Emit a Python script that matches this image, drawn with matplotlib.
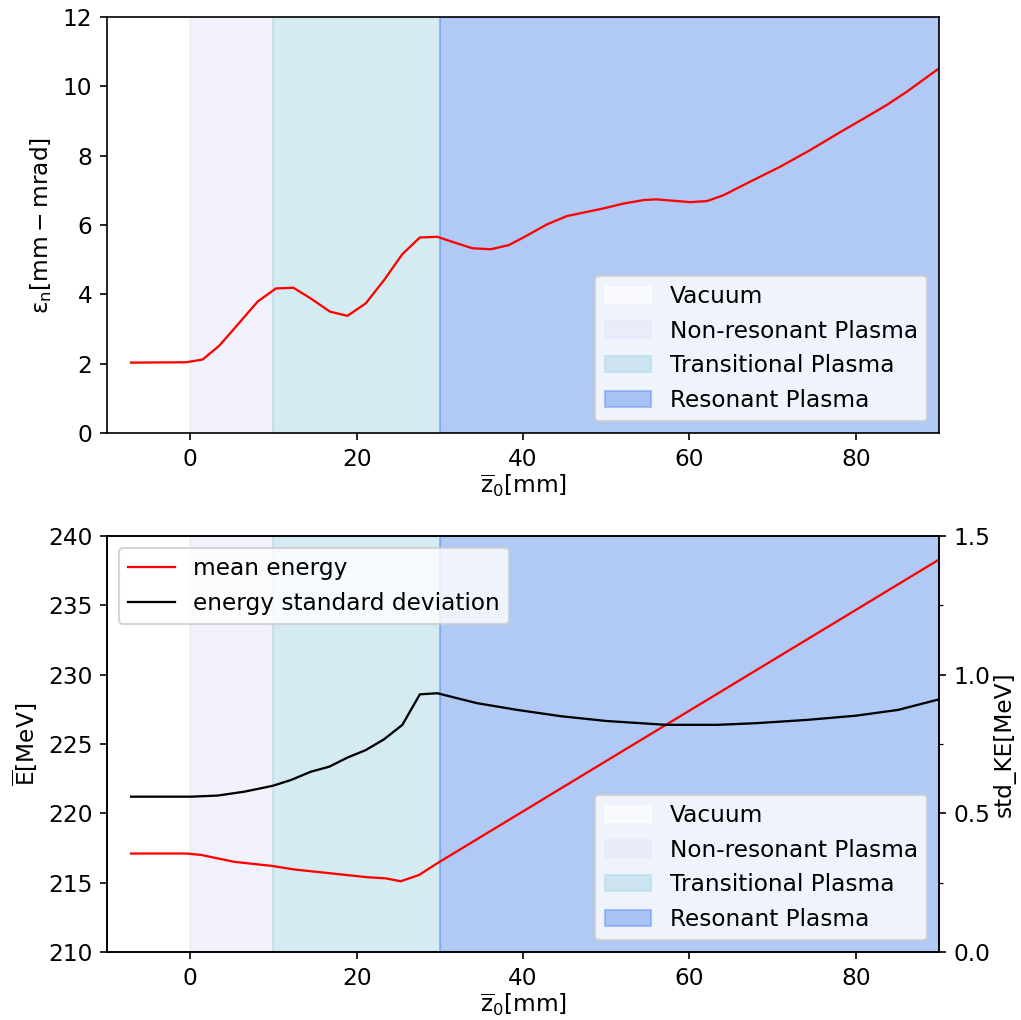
import numpy as np
import matplotlib
matplotlib.use("Agg")
import matplotlib.pyplot as plt

plt.rcParams['mathtext.default'] = 'regular'
plt.rcParams['font.size'] = 11.2

# emittance vs z
z_eps = [-7.1, -0.5, 1.5, 3.5, 5.9, 8.1, 10.3, 12.4, 14.5, 16.8, 18.9, 21.1, 23.3, 25.5,
         27.6, 29.7, 31.7, 33.9, 36.1, 38.3, 40.5, 42.9, 45.3, 47.7, 49.7, 52.1, 54.5,
         56.0, 58.1, 60.1, 62.1, 64.1, 67.3, 70.9, 74.5, 78.2, 81.3, 83.7, 86.1, 90.0]
eps_n = [2.03, 2.04, 2.12, 2.52, 3.18, 3.79, 4.17, 4.19, 3.88, 3.50, 3.38, 3.74, 4.41, 5.16,
         5.64, 5.66, 5.50, 5.33, 5.30, 5.42, 5.70, 6.02, 6.26, 6.38, 6.48, 6.62, 6.72,
         6.74, 6.70, 6.66, 6.69, 6.86, 7.25, 7.68, 8.16, 8.69, 9.12, 9.46, 9.84, 10.52]

# mean energy vs z
z_E = [-7.1, -0.5, 1.3, 5.3, 9.9, 12.5, 16.9, 21.3, 23.5, 25.3, 27.5, 29.7, 90.0]
E_mean = [217.1, 217.1, 217.0, 216.5, 216.2, 215.95, 215.67, 215.39, 215.31, 215.1,
          215.55, 216.4, 238.3]

# energy std vs z
z_std = [-7.1, 0.1, 3.3, 6.5, 9.9, 12.1, 14.5, 16.7, 18.9, 21.1, 23.3, 25.5, 27.6, 29.7,
         34.5, 39.3, 44.6, 50.0, 57.2, 63.3, 68.0, 74.2, 80.0, 85.1, 90.0]
E_std = [0.560, 0.560, 0.564, 0.578, 0.599, 0.620, 0.650, 0.668, 0.701, 0.728, 0.767,
         0.819, 0.929, 0.933, 0.897, 0.873, 0.850, 0.833, 0.819, 0.819, 0.825, 0.837,
         0.852, 0.873, 0.911]

regions = ["Vacuum", "Non-resonant Plasma", "Transitional Plasma", "Resonant Plasma"]
region_edges = [(-10, 0), (0, 10), (10, 30), (30, 90)]
region_colors = ["white", "lavender", "lightblue", "cornflowerblue"]


def shade(ax):
    for name, (a, b), c in zip(regions, region_edges, region_colors):
        ax.axvspan(a, b, color=c, alpha=0.5, label=name)


fig = plt.figure(figsize=(1021 / 150, 1020 / 150), dpi=150)

ax1 = fig.add_axes([0.1048, 0.5755, 0.8149, 0.4078])
shade(ax1)
ax1.plot(z_eps, eps_n, color="red", lw=1.1)
ax1.set_xlim(-10, 90)
ax1.set_ylim(0, 12)
ax1.set_xlabel(r'$\overline{z}_0$[mm]', labelpad=1)
ax1.set_ylabel(r'$\epsilon_n[mm - mrad]$')
ax1.legend(loc="lower right")

ax = fig.add_axes([0.1048, 0.0667, 0.8149, 0.4078])
shade(ax)
l1, = ax.plot(z_E, E_mean, color="red", lw=1.1, label="mean energy")
ax.set_xlim(-10, 90)
ax.set_ylim(210, 240)
ax.set_xlabel(r'$\overline{z}_0$[mm]', labelpad=1)
ax.set_ylabel(r'$\overline{E}$[MeV]')

ax2 = ax.twinx()
l2, = ax2.plot(z_std, E_std, color="black", lw=1.1, label="energy standard deviation")
ax2.set_ylim(0, 1.5)
ax2.set_yticks([0.0, 0.5, 1.0, 1.5])
ax2.set_yticks([0.25, 0.75, 1.25], minor=True)
ax2.set_ylabel("std_KE[MeV]", labelpad=1)

h, lab = ax.get_legend_handles_labels()
span_leg = ax2.legend(h[:4], lab[:4], loc="lower right")
ax2.add_artist(span_leg)
ax2.legend([l1, l2], ["mean energy", "energy standard deviation"], loc="upper left")

fig.savefig("out.png", dpi=150)
